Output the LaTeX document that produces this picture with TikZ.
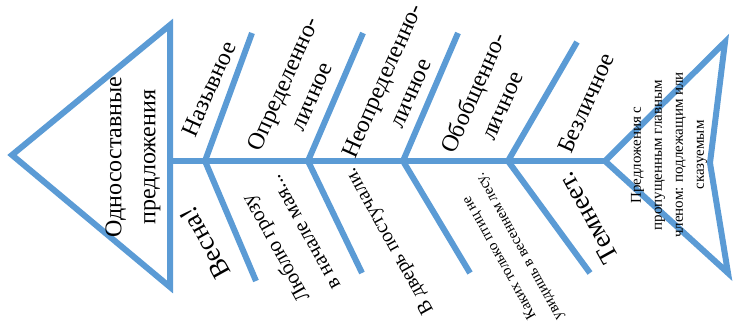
\documentclass[tikz,border=0pt]{standalone}
\usepackage{fontspec}
\setmainfont{Liberation Serif}
\definecolor{fishblue}{RGB}{91,155,213}

\begin{document}
\begin{tikzpicture}[x=1pt, y=-1pt,
        bone/.style={draw=fishblue, line width=6pt},
        upper/.style={rotate=66, align=center, font=\fontsize{24}{31}\selectfont},
        lower/.style={rotate=119, align=center}]
        \useasboundingbox (0,0) rectangle (736,324);

        % Head
        \coordinate (headtip) at (12,155);
        \coordinate (headtop) at (170,25);
        \coordinate (headbot) at (170,287);
        \draw[bone] (headtip) -- (headtop) -- (headbot) -- cycle;
        \node[rotate=90, align=center, font=\fontsize{24}{34}\selectfont] (head) at (133,157) {Односоставные\\предложения};

        % Spine
        \coordinate (spinestart) at (170,161);
        \coordinate (spineend) at (605,161);
        \draw[bone] (spinestart) -- (spineend);

        % Bones
        \coordinate (j1) at (205,161);
        \coordinate (up1) at (252,33);
        \coordinate (dn1) at (256,281);
        \coordinate (j2) at (308,161);
        \coordinate (up2) at (363,33);
        \coordinate (dn2) at (362,273);
        \coordinate (j3) at (403,161);
        \coordinate (up3) at (458,33);
        \coordinate (dn3) at (470,273);
        \coordinate (j4) at (508,161);
        \coordinate (up4) at (577,42);
        \coordinate (dn4) at (590,273);
        \foreach \i in {1,...,4}
            \draw[bone] (up\i) -- (j\i) -- (dn\i);

        % Tail
        \coordinate (tailtop) at (725,42);
        \coordinate (tailnotch) at (710,163);
        \coordinate (tailbot) at (728,273);
        \draw[bone] (spineend) -- (tailtop) -- (tailnotch) -- (tailbot) -- cycle;
        \node[rotate=90, align=center, font=\fontsize{15}{21}\selectfont] (tailtext) at (669,155) {Предложения с\\пропущенным главным\\членом: подлежащим или\\сказуемым};

        % Types
        \node[upper] (nazyv) at (209,89) {Назывное};
        \node[upper] (opred) at (297,90) {Определенно-\\личное};
        \node[upper] (neopred) at (396,87) {Неопределенно-\\личное};
        \node[upper] (obob) at (487,99) {Обобщенно-\\личное};
        \node[upper] (bezl) at (586,103) {Безличное};

        % Examples
        \node[lower, font=\fontsize{27}{32}\selectfont] (vesna) at (205,243) {Весна!};
        \node[lower, font=\fontsize{21}{33}\selectfont] (grozu) at (289,241) {Люблю грозу\\в начале мая...};
        \node[lower, font=\fontsize{20}{24}\selectfont] (dver) at (390,241) {В дверь постучали.};
        \node[lower, font=\fontsize{15}{23}\selectfont] (ptits) at (510,252) {Каких только птиц не\\увидишь в весеннем лесу.};
        \node[lower, font=\fontsize{27}{32}\selectfont] (temneet) at (588,218) {Темнеет.};
    \end{tikzpicture}
\end{document}
